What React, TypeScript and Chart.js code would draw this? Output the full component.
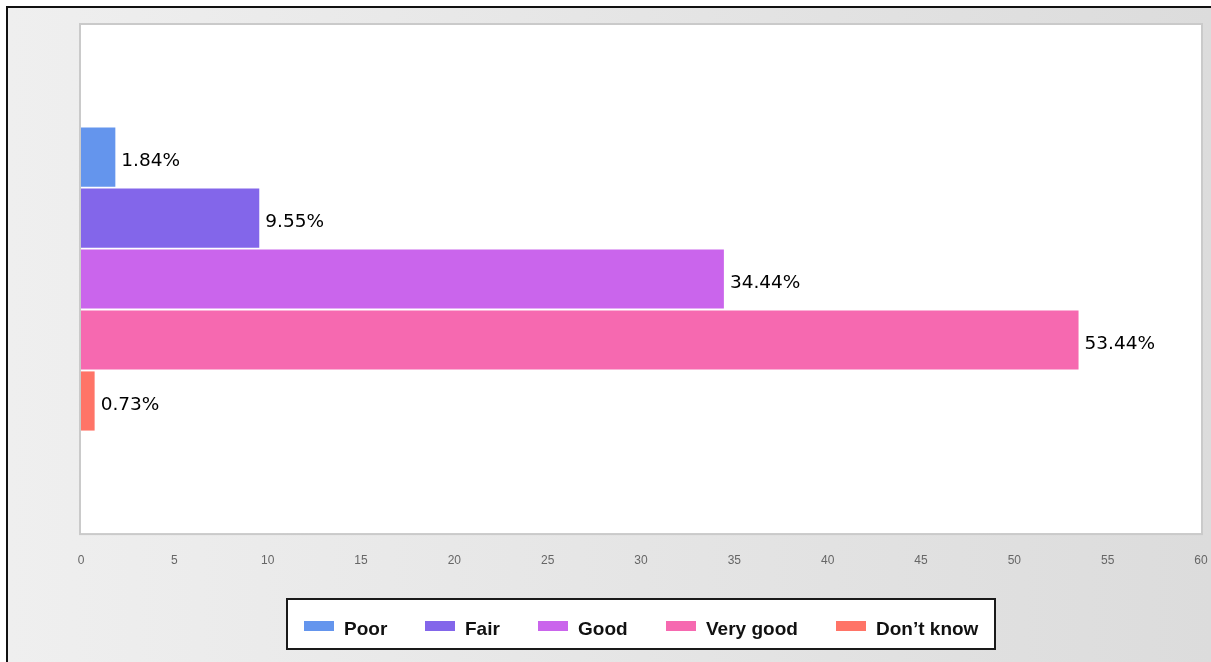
import React, { useEffect, useRef } from "react";
import { Chart, registerables } from "chart.js";

Chart.register(...registerables);

const categories = [""];
const seriesLabels = ["Poor", "Fair", "Good", "Very good", "Don\u2019t know"];
const seriesValues = [1.84, 9.55, 34.44, 53.44, 0.73];
const seriesColors = ["#6495ED", "#8366EA", "#CA65EC", "#F669B0", "#FF7467"];
const axisMin = 0;
const axisMax = 60;
const axisStep = 5;

const plotBackground = {
  id: "plotBackground",
  beforeDraw(chart: any) {
    const { ctx, chartArea } = chart;
    const { left, top, right, bottom } = chartArea;
    ctx.save();
    ctx.fillStyle = "#ffffff";
    ctx.fillRect(left, top, right - left, bottom - top);
    ctx.strokeStyle = "#cacaca";
    ctx.lineWidth = 2;
    ctx.strokeRect(left - 1, top - 1, right - left + 2, bottom - top + 2);
    ctx.restore();
  },
};

const valueLabels = {
  id: "valueLabels",
  afterDatasetsDraw(chart: any) {
    const { ctx } = chart;
    ctx.save();
    ctx.font = '18.5px "DejaVu Sans", Verdana, sans-serif';
    ctx.fillStyle = "#000";
    ctx.textAlign = "left";
    ctx.textBaseline = "middle";
    chart.data.datasets.forEach((ds: any, i: number) => {
      const meta = chart.getDatasetMeta(i);
      meta.data.forEach((bar: any, j: number) => {
        const v = ds.data[j];
        ctx.fillText(v.toFixed(2) + "%", bar.x + 6, bar.y + 4);
      });
    });
    ctx.restore();
  },
};

const boxLegend = {
  id: "boxLegend",
  afterDraw(chart: any) {
    const { ctx, chartArea } = chart;
    const datasets = chart.data.datasets;
    ctx.save();
    ctx.font = 'bold 19px "Liberation Sans", Arial, sans-serif';
    const swatchW = 30;
    const swatchH = 10;
    const textGap = 10;
    const itemGap = 38;
    const widths = datasets.map((ds: any) => swatchW + textGap + ctx.measureText(ds.label).width);
    const total = widths.reduce((a: number, b: number) => a + b, 0) + itemGap * (datasets.length - 1);
    const padL = 18;
    const padR = 18;
    const boxW = Math.round(total + padL + padR);
    const cx = (chartArea.left + chartArea.right) / 2;
    const boxX = Math.round(cx - boxW / 2);
    const boxY = 598;
    const boxH = 52;
    ctx.fillStyle = "#ffffff";
    ctx.fillRect(boxX, boxY, boxW, boxH);
    ctx.strokeStyle = "#1a1a1a";
    ctx.lineWidth = 2;
    ctx.strokeRect(boxX + 1, boxY + 1, boxW - 2, boxH - 2);
    let x = boxX + padL;
    datasets.forEach((ds: any, i: number) => {
      ctx.fillStyle = ds.backgroundColor;
      ctx.fillRect(Math.round(x), 621, swatchW, swatchH);
      ctx.fillStyle = "#111";
      ctx.textAlign = "left";
      ctx.textBaseline = "middle";
      ctx.fillText(ds.label, Math.round(x) + swatchW + textGap, 630);
      x += widths[i] + itemGap;
    });
    ctx.restore();
  },
};

export default function App() {
  const canvasRef = useRef<HTMLCanvasElement | null>(null);

  useEffect(() => {
    if (!canvasRef.current) return;
    const chart = new Chart(canvasRef.current, {
      type: "bar",
      data: {
        labels: categories,
        datasets: seriesLabels.map((label, i) => ({
          label,
          data: [seriesValues[i]],
          backgroundColor: seriesColors[i],
          borderWidth: 0,
          categoryPercentage: 0.6,
          barPercentage: 0.97,
        })),
      },
      options: {
        indexAxis: "y",
        responsive: false,
        animation: false,
        layout: { padding: { left: 81, right: 10, top: 25, bottom: 93 } },
        plugins: {
          legend: { display: false },
          tooltip: { enabled: false },
        },
        scales: {
          x: {
            min: axisMin,
            max: axisMax,
            grid: { display: false, drawTicks: true, tickLength: 19.5 },
            border: { display: false },
            ticks: {
              stepSize: axisStep,
              color: "#666",
              padding: 1,
              font: { family: '"Liberation Sans", Arial, sans-serif', size: 12 },
            },
          },
          y: { display: false },
        },
      },
      plugins: [plotBackground, valueLabels, boxLegend],
    });
    return () => chart.destroy();
  }, []);

  return (
    <div style={{ position: "fixed", left: 0, top: 0, width: 1211, height: 662, overflow: "hidden" }}>
      <div
        style={{
          position: "absolute",
          left: 6,
          top: 6,
          width: 1300,
          height: 700,
          border: "2px solid #111",
          background: "linear-gradient(to right, #efefef 0px, #dcdcdc 1205px)",
        }}
      />
      <canvas ref={canvasRef} width={1211} height={662} style={{ position: "absolute", left: 0, top: 0 }} />
    </div>
  );
}
